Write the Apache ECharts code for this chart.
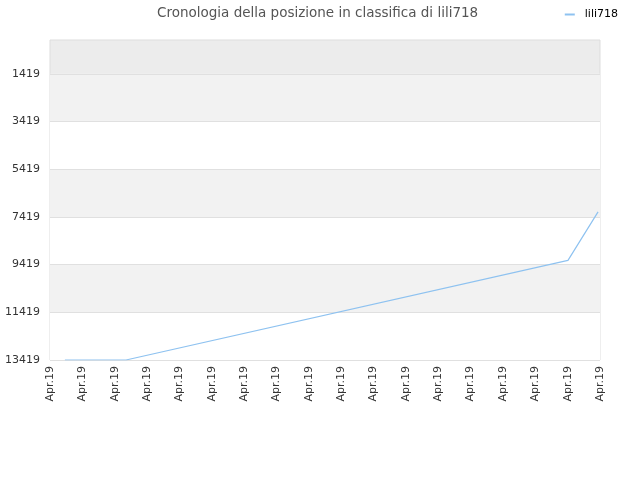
<!DOCTYPE html>
<html>
<head>
<meta charset="utf-8">
<script src="https://cdn.jsdelivr.net/npm/echarts@6/dist/echarts.min.js"></script>
<style>
  html, body { margin: 0; padding: 0; background: #fff; }
  #chart { width: 640px; height: 480px; }
</style>
</head>
<body>
<div id="chart"></div>
<script>
'use strict';

// dati
var seriesName = 'lili718';
var xPos = [0.46, 2.35, 16.01, 16.94];
var ranks = [13419, 13419, 9239, 7210];
var tickLabels = ['Apr.19', 'Apr.19', 'Apr.19', 'Apr.19', 'Apr.19', 'Apr.19',
    'Apr.19', 'Apr.19', 'Apr.19', 'Apr.19', 'Apr.19', 'Apr.19',
    'Apr.19', 'Apr.19', 'Apr.19', 'Apr.19', 'Apr.19', 'Apr.19'];
var yTicks = [1419, 3419, 5419, 7419, 9419, 11419, 13419];

var points = xPos.map(function (x, i) { return [x, ranks[i]]; });

var chart = echarts.init(document.getElementById('chart'));
chart.setOption({
    animation: false,
    textStyle: {fontFamily: 'DejaVu Sans'},
    title: {
        text: 'Cronologia della posizione in classifica di lili718',
        left: 152,
        top: 1,
        textStyle: {fontSize: 13.5, fontWeight: 'normal', color: '#555'}
    },
    legend: {
        right: 17,
        top: 4,
        icon: 'rect',
        itemWidth: 10,
        itemHeight: 2,
        textStyle: {fontSize: 11, color: '#000', padding: [0, 0, 0, 5]},
        data: [seriesName]
    },
    grid: {
        left: 50, right: 40, top: 40, bottom: 120,
        show: true,
        backgroundColor: '#ececec',
        borderColor: '#dddddd',
        borderWidth: 1
    },
    xAxis: {
        type: 'value',
        min: 0,
        max: tickLabels.length - 1,
        interval: 1,
        axisLine: {show: false},
        axisTick: {show: false},
        splitLine: {show: false},
        axisLabel: {
            rotate: 90,
            fontSize: 11,
            color: '#333',
            margin: 6,
            formatter: function (v) { return tickLabels[Math.round(v)]; }
        }
    },
    yAxis: {
        type: 'value',
        inverse: true,
        min: 0,
        max: 13419,
        axisLine: {show: false},
        axisTick: {show: false, customValues: yTicks},
        axisLabel: {
            fontSize: 11,
            color: '#333',
            margin: 10,
            customValues: yTicks,
            formatter: function (v) { return String(v); }
        },
        splitLine: {show: true, lineStyle: {color: '#e0e0e0'}},
        splitArea: {show: true, areaStyle: {color: ['#f2f2f2', '#ffffff']}}
    },
    series: [{
        name: seriesName,
        type: 'line',
        data: points,
        showSymbol: false,
        lineStyle: {color: '#8ec2f0', width: 1.2},
        itemStyle: {color: '#8ec2f0'}
    }]
});
</script>
</body>
</html>
